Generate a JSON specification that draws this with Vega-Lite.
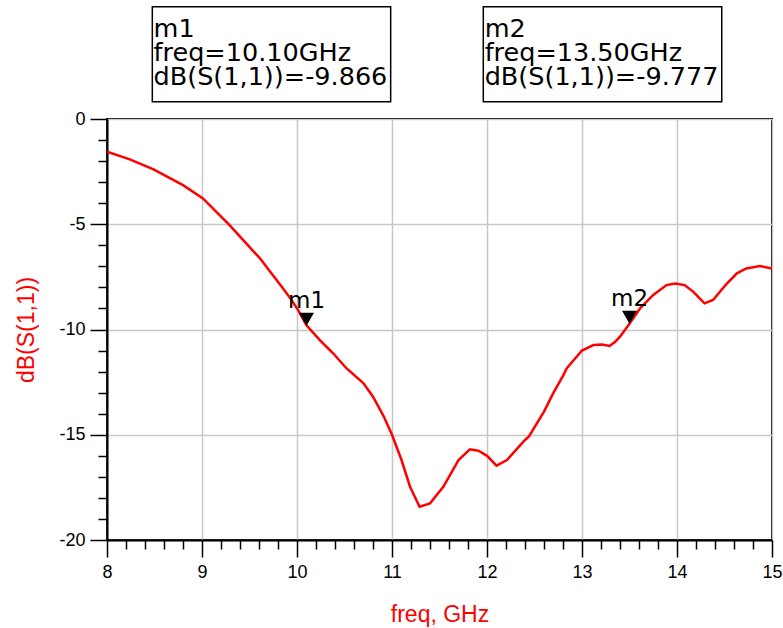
{
  "$schema": "https://vega.github.io/schema/vega-lite/v6.json",
  "width": 665,
  "height": 421,
  "autosize": "none",
  "padding": {"left": 107, "top": 119, "right": 11, "bottom": 88},
  "background": "white",
  "config": {
    "view": {"stroke": "black", "strokeWidth": 2},
    "font": "Liberation Sans",
    "axis": {
      "gridColor": "#c8c8c8", "gridWidth": 1.5,
      "domainColor": "black", "domainWidth": 2,
      "tickColor": "black", "tickWidth": 1.5,
      "labelFont": "Liberation Sans", "labelFontSize": 18, "labelColor": "black",
      "labelFlush": false, "labelOverlap": false,
      "titleColor": "#ff0000", "titleFont": "Liberation Sans",
      "titleFontSize": 23, "titleFontWeight": "normal"
    }
  },
  "datasets": {
    "curve": [
      {"freq": 8.00, "db": -1.55},
      {"freq": 8.24, "db": -1.92},
      {"freq": 8.49, "db": -2.39},
      {"freq": 8.80, "db": -3.14},
      {"freq": 9.01, "db": -3.77},
      {"freq": 9.29, "db": -5.04},
      {"freq": 9.61, "db": -6.62},
      {"freq": 9.73, "db": -7.33},
      {"freq": 9.84, "db": -7.97},
      {"freq": 9.93, "db": -8.52},
      {"freq": 10.01, "db": -9.07},
      {"freq": 10.10, "db": -9.80},
      {"freq": 10.24, "db": -10.50},
      {"freq": 10.38, "db": -11.13},
      {"freq": 10.52, "db": -11.84},
      {"freq": 10.70, "db": -12.56},
      {"freq": 10.80, "db": -13.19},
      {"freq": 10.91, "db": -14.10},
      {"freq": 11.00, "db": -15.00},
      {"freq": 11.10, "db": -16.20},
      {"freq": 11.19, "db": -17.47},
      {"freq": 11.29, "db": -18.42},
      {"freq": 11.40, "db": -18.26},
      {"freq": 11.54, "db": -17.47},
      {"freq": 11.70, "db": -16.20},
      {"freq": 11.82, "db": -15.69},
      {"freq": 11.91, "db": -15.76},
      {"freq": 12.00, "db": -16.00},
      {"freq": 12.10, "db": -16.47},
      {"freq": 12.21, "db": -16.20},
      {"freq": 12.40, "db": -15.25},
      {"freq": 12.44, "db": -15.09},
      {"freq": 12.60, "db": -13.90},
      {"freq": 12.70, "db": -13.00},
      {"freq": 12.80, "db": -12.20},
      {"freq": 12.84, "db": -11.84},
      {"freq": 13.00, "db": -11.00},
      {"freq": 13.12, "db": -10.74},
      {"freq": 13.21, "db": -10.71},
      {"freq": 13.29, "db": -10.78},
      {"freq": 13.35, "db": -10.58},
      {"freq": 13.40, "db": -10.34},
      {"freq": 13.49, "db": -9.79},
      {"freq": 13.61, "db": -9.00},
      {"freq": 13.75, "db": -8.36},
      {"freq": 13.89, "db": -7.89},
      {"freq": 13.98, "db": -7.81},
      {"freq": 14.08, "db": -7.89},
      {"freq": 14.17, "db": -8.20},
      {"freq": 14.29, "db": -8.76},
      {"freq": 14.38, "db": -8.60},
      {"freq": 14.51, "db": -7.89},
      {"freq": 14.63, "db": -7.33},
      {"freq": 14.73, "db": -7.10},
      {"freq": 14.87, "db": -6.98},
      {"freq": 15.00, "db": -7.10}
    ],
    "markers": [
      {"marker": "m1", "freq": 10.1, "db": -9.866},
      {"marker": "m2", "freq": 13.5, "db": -9.777}
    ]
  },
  "layer": [
    {
      "data": {"name": "curve"},
      "mark": {"type": "line", "color": "#ff0000", "strokeWidth": 2.5, "clip": true},
      "encoding": {
        "x": {
          "field": "freq", "type": "quantitative",
          "scale": {"domain": [8, 15], "nice": false, "zero": false},
          "axis": {
            "values": [8, 8.2, 8.4, 8.6, 8.8, 9, 9.2, 9.4, 9.6, 9.8, 10, 10.2, 10.4, 10.6, 10.8, 11, 11.2, 11.4, 11.6, 11.8, 12, 12.2, 12.4, 12.6, 12.8, 13, 13.2, 13.4, 13.6, 13.8, 14, 14.2, 14.4, 14.6, 14.8, 15],
            "labelExpr": "abs(datum.value - round(datum.value)) < 0.01 ? '' + round(datum.value) : ''",
            "tickSize": {"condition": {"test": "abs(datum.value - round(datum.value)) < 0.01", "value": 17}, "value": 9},
            "gridOpacity": {"condition": {"test": "abs(datum.value - round(datum.value)) < 0.01", "value": 1}, "value": 0},
            "labelPadding": 6,
            "title": "freq, GHz", "titlePadding": 22
          }
        },
        "y": {
          "field": "db", "type": "quantitative",
          "scale": {"domain": [-20, 0], "nice": false, "zero": false},
          "axis": {
            "values": [-20, -19, -18, -17, -16, -15, -14, -13, -12, -11, -10, -9, -8, -7, -6, -5, -4, -3, -2, -1, 0],
            "labelExpr": "datum.value % 5 === 0 ? '' + datum.value : ''",
            "tickSize": {"condition": {"test": "datum.value % 5 === 0", "value": 17}, "value": 9},
            "gridOpacity": {"condition": {"test": "datum.value % 5 === 0", "value": 1}, "value": 0},
            "labelPadding": 5,
            "title": "dB(S(1,1))", "titlePadding": 20
          }
        }
      }
    },
    {
      "data": {"name": "markers"},
      "mark": {"type": "point", "shape": "triangle-down", "filled": true, "color": "black", "opacity": 1, "size": 225, "yOffset": -7.5},
      "encoding": {
        "x": {
          "field": "freq", "type": "quantitative",
          "axis": {
            "values": [8, 8.2, 8.4, 8.6, 8.8, 9, 9.2, 9.4, 9.6, 9.8, 10, 10.2, 10.4, 10.6, 10.8, 11, 11.2, 11.4, 11.6, 11.8, 12, 12.2, 12.4, 12.6, 12.8, 13, 13.2, 13.4, 13.6, 13.8, 14, 14.2, 14.4, 14.6, 14.8, 15],
            "labelExpr": "abs(datum.value - round(datum.value)) < 0.01 ? '' + round(datum.value) : ''",
            "tickSize": {"condition": {"test": "abs(datum.value - round(datum.value)) < 0.01", "value": 17}, "value": 9},
            "gridOpacity": {"condition": {"test": "abs(datum.value - round(datum.value)) < 0.01", "value": 1}, "value": 0},
            "labelPadding": 6,
            "title": "freq, GHz", "titlePadding": 22
          }
        },
        "y": {
          "field": "db", "type": "quantitative",
          "axis": {
            "values": [-20, -19, -18, -17, -16, -15, -14, -13, -12, -11, -10, -9, -8, -7, -6, -5, -4, -3, -2, -1, 0],
            "labelExpr": "datum.value % 5 === 0 ? '' + datum.value : ''",
            "tickSize": {"condition": {"test": "datum.value % 5 === 0", "value": 17}, "value": 9},
            "gridOpacity": {"condition": {"test": "datum.value % 5 === 0", "value": 1}, "value": 0},
            "labelPadding": 5,
            "title": "dB(S(1,1))", "titlePadding": 20
          }
        }
      }
    },
    {
      "data": {"name": "markers"},
      "mark": {"type": "text", "align": "center", "baseline": "alphabetic", "dy": -18.4, "fontSize": 23, "font": "DejaVu Sans", "color": "black"},
      "encoding": {
        "x": {
          "field": "freq", "type": "quantitative",
          "axis": {
            "values": [8, 8.2, 8.4, 8.6, 8.8, 9, 9.2, 9.4, 9.6, 9.8, 10, 10.2, 10.4, 10.6, 10.8, 11, 11.2, 11.4, 11.6, 11.8, 12, 12.2, 12.4, 12.6, 12.8, 13, 13.2, 13.4, 13.6, 13.8, 14, 14.2, 14.4, 14.6, 14.8, 15],
            "labelExpr": "abs(datum.value - round(datum.value)) < 0.01 ? '' + round(datum.value) : ''",
            "tickSize": {"condition": {"test": "abs(datum.value - round(datum.value)) < 0.01", "value": 17}, "value": 9},
            "gridOpacity": {"condition": {"test": "abs(datum.value - round(datum.value)) < 0.01", "value": 1}, "value": 0},
            "labelPadding": 6,
            "title": "freq, GHz", "titlePadding": 22
          }
        },
        "y": {
          "field": "db", "type": "quantitative",
          "axis": {
            "values": [-20, -19, -18, -17, -16, -15, -14, -13, -12, -11, -10, -9, -8, -7, -6, -5, -4, -3, -2, -1, 0],
            "labelExpr": "datum.value % 5 === 0 ? '' + datum.value : ''",
            "tickSize": {"condition": {"test": "datum.value % 5 === 0", "value": 17}, "value": 9},
            "gridOpacity": {"condition": {"test": "datum.value % 5 === 0", "value": 1}, "value": 0},
            "labelPadding": 5,
            "title": "dB(S(1,1))", "titlePadding": 20
          }
        },
        "text": {"field": "marker"}
      }
    },
    {
      "data": {"values": [{"marker": "m1"}]},
      "mark": {"type": "rect", "fill": "white", "stroke": "black", "strokeWidth": 1.5},
      "encoding": {
        "x": {
          "datum": 8.477, "type": "quantitative",
          "axis": {
            "values": [8, 8.2, 8.4, 8.6, 8.8, 9, 9.2, 9.4, 9.6, 9.8, 10, 10.2, 10.4, 10.6, 10.8, 11, 11.2, 11.4, 11.6, 11.8, 12, 12.2, 12.4, 12.6, 12.8, 13, 13.2, 13.4, 13.6, 13.8, 14, 14.2, 14.4, 14.6, 14.8, 15],
            "labelExpr": "abs(datum.value - round(datum.value)) < 0.01 ? '' + round(datum.value) : ''",
            "tickSize": {"condition": {"test": "abs(datum.value - round(datum.value)) < 0.01", "value": 17}, "value": 9},
            "gridOpacity": {"condition": {"test": "abs(datum.value - round(datum.value)) < 0.01", "value": 1}, "value": 0},
            "labelPadding": 6,
            "title": "freq, GHz", "titlePadding": 22
          }
        },
        "x2": {"datum": 10.986},
        "y": {
          "datum": 5.33, "type": "quantitative",
          "axis": {
            "values": [-20, -19, -18, -17, -16, -15, -14, -13, -12, -11, -10, -9, -8, -7, -6, -5, -4, -3, -2, -1, 0],
            "labelExpr": "datum.value % 5 === 0 ? '' + datum.value : ''",
            "tickSize": {"condition": {"test": "datum.value % 5 === 0", "value": 17}, "value": 9},
            "gridOpacity": {"condition": {"test": "datum.value % 5 === 0", "value": 1}, "value": 0},
            "labelPadding": 5,
            "title": "dB(S(1,1))", "titlePadding": 20
          }
        },
        "y2": {"datum": 0.82}
      }
    },
    {
      "data": {"values": [{"marker": "m2"}]},
      "mark": {"type": "rect", "fill": "white", "stroke": "black", "strokeWidth": 1.5},
      "encoding": {
        "x": {
          "datum": 11.961, "type": "quantitative",
          "axis": {
            "values": [8, 8.2, 8.4, 8.6, 8.8, 9, 9.2, 9.4, 9.6, 9.8, 10, 10.2, 10.4, 10.6, 10.8, 11, 11.2, 11.4, 11.6, 11.8, 12, 12.2, 12.4, 12.6, 12.8, 13, 13.2, 13.4, 13.6, 13.8, 14, 14.2, 14.4, 14.6, 14.8, 15],
            "labelExpr": "abs(datum.value - round(datum.value)) < 0.01 ? '' + round(datum.value) : ''",
            "tickSize": {"condition": {"test": "abs(datum.value - round(datum.value)) < 0.01", "value": 17}, "value": 9},
            "gridOpacity": {"condition": {"test": "abs(datum.value - round(datum.value)) < 0.01", "value": 1}, "value": 0},
            "labelPadding": 6,
            "title": "freq, GHz", "titlePadding": 22
          }
        },
        "x2": {"datum": 14.471},
        "y": {
          "datum": 5.33, "type": "quantitative",
          "axis": {
            "values": [-20, -19, -18, -17, -16, -15, -14, -13, -12, -11, -10, -9, -8, -7, -6, -5, -4, -3, -2, -1, 0],
            "labelExpr": "datum.value % 5 === 0 ? '' + datum.value : ''",
            "tickSize": {"condition": {"test": "datum.value % 5 === 0", "value": 17}, "value": 9},
            "gridOpacity": {"condition": {"test": "datum.value % 5 === 0", "value": 1}, "value": 0},
            "labelPadding": 5,
            "title": "dB(S(1,1))", "titlePadding": 20
          }
        },
        "y2": {"datum": 0.82}
      }
    },
    {
      "data": {"values": [{"label": "m1\nfreq=10.10GHz\ndB(S(1,1))=-9.866"}]},
      "mark": {"type": "text", "align": "left", "baseline": "alphabetic", "lineBreak": "\n", "lineHeight": 24.2, "fontSize": 25.5, "font": "DejaVu Sans", "color": "black"},
      "encoding": {
        "x": {
          "datum": 8.49, "type": "quantitative",
          "axis": {
            "values": [8, 8.2, 8.4, 8.6, 8.8, 9, 9.2, 9.4, 9.6, 9.8, 10, 10.2, 10.4, 10.6, 10.8, 11, 11.2, 11.4, 11.6, 11.8, 12, 12.2, 12.4, 12.6, 12.8, 13, 13.2, 13.4, 13.6, 13.8, 14, 14.2, 14.4, 14.6, 14.8, 15],
            "labelExpr": "abs(datum.value - round(datum.value)) < 0.01 ? '' + round(datum.value) : ''",
            "tickSize": {"condition": {"test": "abs(datum.value - round(datum.value)) < 0.01", "value": 17}, "value": 9},
            "gridOpacity": {"condition": {"test": "abs(datum.value - round(datum.value)) < 0.01", "value": 1}, "value": 0},
            "labelPadding": 6,
            "title": "freq, GHz", "titlePadding": 22
          }
        },
        "y": {
          "datum": 3.9, "type": "quantitative",
          "axis": {
            "values": [-20, -19, -18, -17, -16, -15, -14, -13, -12, -11, -10, -9, -8, -7, -6, -5, -4, -3, -2, -1, 0],
            "labelExpr": "datum.value % 5 === 0 ? '' + datum.value : ''",
            "tickSize": {"condition": {"test": "datum.value % 5 === 0", "value": 17}, "value": 9},
            "gridOpacity": {"condition": {"test": "datum.value % 5 === 0", "value": 1}, "value": 0},
            "labelPadding": 5,
            "title": "dB(S(1,1))", "titlePadding": 20
          }
        },
        "text": {"field": "label"}
      }
    },
    {
      "data": {"values": [{"label": "m2\nfreq=13.50GHz\ndB(S(1,1))=-9.777"}]},
      "mark": {"type": "text", "align": "left", "baseline": "alphabetic", "lineBreak": "\n", "lineHeight": 24.2, "fontSize": 25.5, "font": "DejaVu Sans", "color": "black"},
      "encoding": {
        "x": {
          "datum": 11.975, "type": "quantitative",
          "axis": {
            "values": [8, 8.2, 8.4, 8.6, 8.8, 9, 9.2, 9.4, 9.6, 9.8, 10, 10.2, 10.4, 10.6, 10.8, 11, 11.2, 11.4, 11.6, 11.8, 12, 12.2, 12.4, 12.6, 12.8, 13, 13.2, 13.4, 13.6, 13.8, 14, 14.2, 14.4, 14.6, 14.8, 15],
            "labelExpr": "abs(datum.value - round(datum.value)) < 0.01 ? '' + round(datum.value) : ''",
            "tickSize": {"condition": {"test": "abs(datum.value - round(datum.value)) < 0.01", "value": 17}, "value": 9},
            "gridOpacity": {"condition": {"test": "abs(datum.value - round(datum.value)) < 0.01", "value": 1}, "value": 0},
            "labelPadding": 6,
            "title": "freq, GHz", "titlePadding": 22
          }
        },
        "y": {
          "datum": 3.9, "type": "quantitative",
          "axis": {
            "values": [-20, -19, -18, -17, -16, -15, -14, -13, -12, -11, -10, -9, -8, -7, -6, -5, -4, -3, -2, -1, 0],
            "labelExpr": "datum.value % 5 === 0 ? '' + datum.value : ''",
            "tickSize": {"condition": {"test": "datum.value % 5 === 0", "value": 17}, "value": 9},
            "gridOpacity": {"condition": {"test": "datum.value % 5 === 0", "value": 1}, "value": 0},
            "labelPadding": 5,
            "title": "dB(S(1,1))", "titlePadding": 20
          }
        },
        "text": {"field": "label"}
      }
    }
  ]
}
